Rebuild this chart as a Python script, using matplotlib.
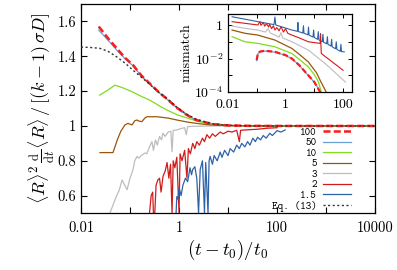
import matplotlib
matplotlib.use("Agg")
import matplotlib.pyplot as plt
from matplotlib.ticker import FixedLocator, FixedFormatter, NullFormatter
from matplotlib.font_manager import FontProperties

plt.rcParams['font.family'] = 'serif'
plt.rcParams['font.serif'] = ['cmr10', 'DejaVu Serif']
plt.rcParams['mathtext.fontset'] = 'cm'
plt.rcParams['axes.formatter.use_mathtext'] = True
plt.rcParams['axes.unicode_minus'] = False

# ---------------- main panel data ----------------
labels = ['100', '50', '10', '5', '3', '2', '1.5', 'Eq. (13)']

x_100 = [0.023, 0.03, 0.039, 0.06, 0.08, 0.115, 0.17, 0.25, 0.4, 0.57, 0.9, 1.45, 2.2, 3, 5, 10, 30, 100, 10000]
y_100 = [1.571, 1.53, 1.49, 1.43, 1.39, 1.35, 1.29, 1.245, 1.19, 1.155, 1.105, 1.063, 1.035, 1.025, 1.01, 1.003, 1.0005, 1.0, 1.0]

x_50 = [0.023, 0.03, 0.039, 0.06, 0.08, 0.115, 0.17, 0.25, 0.4, 0.57, 0.9, 1.45, 2.2, 3, 5, 10, 30, 100, 10000]
y_50 = [1.55, 1.515, 1.48, 1.42, 1.385, 1.345, 1.287, 1.242, 1.188, 1.153, 1.103, 1.062, 1.034, 1.024, 1.01, 1.003, 1.0005, 1.0, 1.0]

x_10 = [0.024, 0.035, 0.049, 0.07, 0.115, 0.17, 0.25, 0.4, 0.57, 0.9, 1.45, 2.2, 3, 5, 10, 30, 10000]
y_10 = [1.177, 1.205, 1.234, 1.22, 1.194, 1.17, 1.149, 1.115, 1.091, 1.065, 1.046, 1.03, 1.02, 1.01, 1.003, 1.0, 1.0]

x_5 = [0.0244, 0.045, 0.055, 0.065, 0.079, 0.091, 0.100, 0.110, 0.125, 0.139, 0.155, 0.175, 0.2, 0.222, 0.355, 0.6, 0.91, 1.5, 2.7, 4.3, 10, 30, 10000]
y_5 = [0.847, 0.847, 0.92, 0.97, 1.006, 1.015, 1.01, 1.006, 1.03, 1.034, 1.027, 1.025, 1.045, 1.053, 1.053, 1.045, 1.034, 1.022, 1.012, 1.006, 1.002, 1.0, 1.0]

x_3 = [0.039, 0.05, 0.06, 0.069, 0.078, 0.087, 0.1, 0.115, 0.125, 0.139, 0.15, 0.17, 0.2, 0.22, 0.25, 0.28, 0.30, 0.33, 0.36, 0.40, 0.44,
       0.47, 0.52, 0.6, 0.68, 0.72, 0.76, 0.9, 1.1, 1.3, 1.4, 1.5, 2, 5, 130]
y_3 = [0.5, 0.58, 0.63, 0.69, 0.66, 0.634, 0.70, 0.749, 0.80, 0.825, 0.815, 0.83, 0.845, 0.84, 0.88, 0.91, 0.86, 0.92, 0.89, 0.94, 0.92,
       0.958, 0.94, 0.965, 0.97, 0.853, 0.975, 0.977, 0.985, 0.99, 0.95, 0.996, 0.998, 1.0, 1.0]

x_2 = [0.25, 0.27, 0.29, 0.30, 0.32, 0.34, 0.37, 0.40, 0.43, 0.47, 0.52, 0.57, 0.62, 0.67, 0.72, 0.76, 0.82, 0.9, 1.0, 1.05, 1.15,
       1.3, 1.45, 1.55, 1.7, 1.9, 2.1, 2.3, 2.6, 3.0, 3.3, 3.7, 4.2, 4.8, 5.5, 6.9, 8, 10, 12, 15, 17, 18, 25, 39, 63, 100]
y_2 = [0.5, 0.60, 0.62, 0.5, 0.5, 0.66, 0.69, 0.70, 0.62, 0.71, 0.74, 0.79, 0.70, 0.78, 0.5, 0.80, 0.76, 0.82, 0.5, 0.84, 0.80,
       0.86, 0.70, 0.87, 0.84, 0.90, 0.87, 0.91, 0.89, 0.93, 0.91, 0.95, 0.93, 0.955, 0.94, 0.965, 0.955, 0.97, 0.965, 0.975, 0.91, 0.975, 0.978, 0.981, 0.987, 0.99]

x_15 = [0.87, 0.9, 0.95, 1.0, 1.1, 1.2, 1.35, 1.5, 1.67, 1.8, 1.9, 2.1, 2.3, 2.5, 2.7, 3.0, 3.3, 3.5, 3.9, 4.1, 4.3, 4.8, 5.2, 6.0,
        6.9, 7.5, 8.5, 10, 11, 13, 15, 17, 19, 22, 25, 28, 32, 36, 40, 46, 52, 60, 71, 80, 100, 120, 146]
y_15 = [0.5, 0.594, 0.58, 0.646, 0.6, 0.66, 0.70, 0.68, 0.76, 0.72, 0.75, 0.766, 0.70, 0.5, 0.75, 0.80, 0.5, 0.79, 0.5, 0.80, 0.825, 0.78, 0.83, 0.80,
        0.85, 0.82, 0.86, 0.83, 0.87, 0.85, 0.89, 0.87, 0.90, 0.88, 0.91, 0.89, 0.93, 0.91, 0.935, 0.92, 0.945, 0.93, 0.958, 0.945, 0.973, 0.965, 0.977]

x_eq = [0.01, 0.015, 0.024, 0.035, 0.054, 0.08, 0.115, 0.17, 0.25, 0.4, 0.57, 0.9, 1.45, 2.2, 3, 5, 10, 30, 100, 10000]
y_eq = [1.453, 1.451, 1.446, 1.43, 1.396, 1.36, 1.32, 1.28, 1.24, 1.19, 1.158, 1.108, 1.066, 1.04, 1.028, 1.012, 1.004, 1.0005, 1.0, 1.0]

# ---------------- inset (mismatch) data ----------------
ix_100 = [0.1, 0.11, 0.13, 0.19, 0.3, 0.43, 1.0, 1.67, 3.0, 6.2, 10, 16]
iy_100 = [0.008, 0.02, 0.026, 0.029, 0.027, 0.025, 0.016, 0.01, 0.004, 0.001, 0.0004, 0.0001]

ix_50 = [0.1, 0.11, 0.13, 0.19, 0.3, 0.43, 1.0, 1.67, 3.0, 6.2, 10, 16.5]
iy_50 = [0.0075, 0.019, 0.025, 0.028, 0.026, 0.024, 0.0155, 0.0097, 0.0039, 0.00097, 0.00039, 0.0001]

ix_10 = [0.014, 0.039, 0.11, 0.43, 1.67, 3.0, 6.2, 10, 14, 17.5]
iy_10 = [0.2, 0.1, 0.08, 0.05, 0.02, 0.009, 0.0032, 0.0011, 0.0004, 0.0001]

ix_5 = [0.014, 0.039, 0.11, 0.43, 1.67, 3.0, 6.2, 12, 16, 26]
iy_5 = [0.5, 0.32, 0.25, 0.126, 0.04, 0.018, 0.0063, 0.0014, 0.0005, 0.0001]

ix_3 = [0.014, 0.039, 0.11, 0.2, 0.25, 0.3, 0.43, 0.6, 0.7, 0.8, 1.67, 6.2, 24, 120]
iy_3 = [0.87, 0.63, 0.5, 0.38, 0.6, 0.33, 0.25, 0.19, 0.35, 0.17, 0.1, 0.032, 0.005, 0.0004]

ix_2 = [0.014, 0.039, 0.11, 0.13, 0.14, 0.17, 0.19, 0.22, 0.26, 0.28, 0.33, 0.38, 0.43, 0.5, 0.6, 0.7, 0.85, 1.0, 1.2,
        1.67, 3.0, 6.2, 16, 16.5, 17.5, 42, 100]
iy_2 = [1.58, 1.26, 1.0, 1.6, 0.95, 1.4, 0.85, 1.2, 0.75, 1.1, 0.6, 0.9, 0.5, 0.7, 0.45, 0.8, 0.38, 0.6, 0.32,
        0.25, 0.17, 0.1, 0.08, 0.3, 0.02, 0.0063, 0.002]

ix_15 = [0.014, 0.11, 0.4, 0.43, 0.46, 1.67, 2.6, 2.7, 2.8, 4.0, 4.2, 4.4, 6.0, 6.3, 6.6, 9, 9.5, 10, 13, 13.8, 14.5, 19, 20, 21,
         27, 28.5, 30, 38, 40, 42, 55, 58, 61, 80, 84, 88, 110]
iy_15 = [3.1, 1.58, 1.05, 3.0, 1.0, 0.5, 0.42, 1.4, 0.41, 0.33, 0.9, 0.32, 0.26, 0.75, 0.25, 0.19, 0.5, 0.18, 0.14, 0.4, 0.13, 0.1, 0.28, 0.095,
         0.075, 0.2, 0.07, 0.055, 0.14, 0.05, 0.038, 0.1, 0.035, 0.027, 0.07, 0.026, 0.025]

colors = {
    '100': '#ff1a1a', '50': '#6a9fd4', '10': '#7fdc1e', '5': '#99560a',
    '3': '#bdbdbd', '2': '#d11a1a', '1.5': '#2e62a8', 'eq': '#333333'
}

fig = plt.figure(figsize=(3.97, 2.70), dpi=100)
ax = fig.add_axes([0.204, 0.211, 0.741, 0.774])

lw = 0.9
ax.plot(x_50, y_50, color=colors['50'], lw=lw, zorder=3, label='50')
ax.plot(x_10, y_10, color=colors['10'], lw=lw, zorder=3, label='10')
ax.plot(x_5, y_5, color=colors['5'], lw=lw, zorder=3, label='5')
ax.plot(x_3, y_3, color=colors['3'], lw=lw, zorder=2, label='3')
ax.plot(x_2, y_2, color=colors['2'], lw=lw, zorder=2, label='2')
ax.plot(x_15, y_15, color=colors['1.5'], lw=lw, zorder=2, label='1.5')
ax.plot(x_100, y_100, color=colors['100'], lw=1.8, ls=(0, (2.8, 1.3)), zorder=4, label='100')
ax.plot(x_eq, y_eq, color=colors['eq'], lw=1.0, ls=(0, (1.5, 1.8)), zorder=5, label='Eq. (13)')

ax.set_xscale('log')
ax.set_xlim(0.01, 10000)
ax.set_ylim(0.5, 1.7)
ax.xaxis.set_major_locator(FixedLocator([0.01, 1, 100, 10000]))
ax.xaxis.set_major_formatter(FixedFormatter(['0.01', '1', '100', '10000']))
ax.xaxis.set_minor_locator(FixedLocator([0.1, 10, 1000]))
ax.xaxis.set_minor_formatter(NullFormatter())
ax.yaxis.set_major_locator(FixedLocator([0.6, 0.8, 1.0, 1.2, 1.4, 1.6]))
ax.yaxis.set_major_formatter(FixedFormatter(['0.6', '0.8', '1', '1.2', '1.4', '1.6']))
ax.tick_params(which='both', direction='in', top=True, right=True, labelsize=10.5, width=0.8)
ax.tick_params(which='major', length=4)
ax.tick_params(which='minor', length=4)
ax.tick_params(axis='x', pad=6)
for s in ax.spines.values():
    s.set_linewidth(0.9)

ax.set_xlabel(r'$(t-t_0)/t_0$', fontsize=13.5, labelpad=2)
ax.set_ylabel(r'$\langle R\rangle^2\,\frac{\mathrm{d}}{\mathrm{d}t}\langle R\rangle\,/\,[(k-1)\,\sigma D]$', fontsize=13, labelpad=0)

handles, labs = ax.get_legend_handles_labels()
order = [labs.index(l) for l in labels]
leg = ax.legend([handles[i] for i in order], [labs[i] for i in order],
                loc='lower right', bbox_to_anchor=(0.945, -0.03), frameon=False,
                markerfirst=False, prop=FontProperties(family='cmtt10', size=7.7),
                handlelength=2.7, labelspacing=0.0, handletextpad=0.55, borderpad=0.2)

# ---------------- inset ----------------
ins = fig.add_axes([0.574, 0.659, 0.312, 0.289])
ins.plot(ix_15, iy_15, color=colors['1.5'], lw=0.8)
ins.plot(ix_2, iy_2, color=colors['2'], lw=0.8)
ins.plot(ix_3, iy_3, color=colors['3'], lw=0.8)
ins.plot(ix_5, iy_5, color=colors['5'], lw=0.9)
ins.plot(ix_10, iy_10, color=colors['10'], lw=0.9)
ins.plot(ix_50, iy_50, color=colors['50'], lw=0.9)
ins.plot(ix_100, iy_100, color=colors['100'], lw=1.6, ls=(0, (2.5, 1.2)))
ins.set_xscale('log')
ins.set_yscale('log')
ins.set_xlim(0.01, 200)
ins.set_ylim(1e-4, 4.5)
ins.xaxis.set_major_locator(FixedLocator([0.01, 1, 100]))
ins.xaxis.set_major_formatter(FixedFormatter(['0.01', '1', '100']))
ins.xaxis.set_minor_locator(FixedLocator([0.1, 10]))
ins.xaxis.set_minor_formatter(NullFormatter())
ins.yaxis.set_major_locator(FixedLocator([1e-4, 1e-2, 1]))
ins.yaxis.set_major_formatter(FixedFormatter([r'$10^{-4}$', r'$10^{-2}$', r'$1$']))
ins.yaxis.set_minor_locator(FixedLocator([1e-3, 1e-1]))
ins.yaxis.set_minor_formatter(NullFormatter())
ins.tick_params(which='both', direction='in', top=True, right=True, labelsize=10, length=3, width=0.7)
ins.tick_params(axis='x', pad=5)
for s in ins.spines.values():
    s.set_linewidth(0.9)
ins.set_ylabel('mismatch', fontsize=10, labelpad=1)

fig.savefig('out.png', dpi=100)
